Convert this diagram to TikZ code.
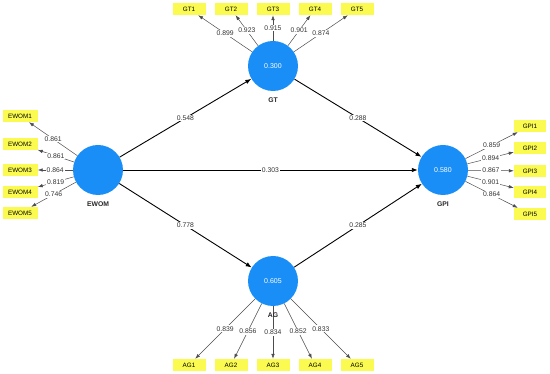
\documentclass[tikz,border=0pt]{standalone}
\usepackage{fontspec}
\setmainfont{Liberation Sans}
\usetikzlibrary{positioning, arrows.meta}
\definecolor{lvblue}{RGB}{26,142,247}
\definecolor{indyellow}{RGB}{250,250,80}

\begin{document}
\begin{tikzpicture}[x=1pt, y=-1pt,
        lv/.style={circle, fill=lvblue, minimum size=50pt, inner sep=0pt, text=white, font=\fontsize{7}{8}\selectfont},
        lvname/.style={font=\fontsize{6.8}{7}\selectfont\bfseries, text=black!85, inner sep=1pt},
        ind/.style={rectangle, fill=indyellow, minimum width=33pt, minimum height=12pt, inner sep=1pt, font=\fontsize{6.3}{7}\selectfont},
        struct/.style={-{Latex[length=6pt,width=4.5pt]}, line width=0.9pt},
        load/.style={-{Latex[length=5pt,width=3.5pt]}, line width=0.5pt, draw=black!70},
        coef/.style={fill=white, inner sep=1pt, font=\fontsize{6.8}{7}\selectfont, text=black!80}]
        \useasboundingbox (0,0) rectangle (550,374);

        % latent variables
        \node[lv] (ewom) at (98,170) {};
        \node[lv] (gt) at (273,66) {0.300};
        \node[lv] (ag) at (273,281) {0.605};
        \node[lv] (gpi) at (443,170) {0.580};

        % indicators
        \node[ind, minimum width=35pt] (ewom1) at (20,116) {EWOM1};
        \node[ind, minimum width=35pt] (ewom2) at (20,144) {EWOM2};
        \node[ind, minimum width=35pt] (ewom3) at (20,170) {EWOM3};
        \node[ind, minimum width=35pt] (ewom4) at (20,192) {EWOM4};
        \node[ind, minimum width=35pt] (ewom5) at (20,213) {EWOM5};

        \node[ind] (gt1) at (189,9) {GT1};
        \node[ind] (gt2) at (231,9) {GT2};
        \node[ind] (gt3) at (273,9) {GT3};
        \node[ind] (gt4) at (315,9) {GT4};
        \node[ind] (gt5) at (357,9) {GT5};

        \node[ind] (ag1) at (189,365) {AG1};
        \node[ind] (ag2) at (231,365) {AG2};
        \node[ind] (ag3) at (273,365) {AG3};
        \node[ind] (ag4) at (315,365) {AG4};
        \node[ind] (ag5) at (357,365) {AG5};

        \node[ind, minimum width=32pt] (gpi1) at (530,126) {GPI1};
        \node[ind, minimum width=32pt] (gpi2) at (530,148) {GPI2};
        \node[ind, minimum width=32pt] (gpi3) at (530,171) {GPI3};
        \node[ind, minimum width=32pt] (gpi4) at (530,192) {GPI4};
        \node[ind, minimum width=32pt] (gpi5) at (530,214) {GPI5};

        % structural paths
        \draw[struct] (ewom) -- node[coef] {0.548} (gt);
        \draw[struct] (ewom) -- node[coef] {0.303} (gpi);
        \draw[struct] (ewom) -- node[coef] {0.778} (ag);
        \draw[struct] (gt) -- node[coef] {0.288} (gpi);
        \draw[struct] (ag) -- node[coef] {0.285} (gpi);

        % outer loadings
        \draw[load] (ewom) -- node[coef] {0.861} (ewom1);
        \draw[load] (ewom) -- node[coef] {0.861} (ewom2);
        \draw[load] (ewom) -- node[coef] {0.864} (ewom3);
        \draw[load] (ewom) -- node[coef] {0.819} (ewom4);
        \draw[load] (ewom) -- node[coef] {0.746} (ewom5);

        \draw[load] (gt) -- node[coef] {0.899} (gt1);
        \draw[load] (gt) -- node[coef] {0.923} (gt2);
        \draw[load] (gt) -- node[coef] {0.915} (gt3);
        \draw[load] (gt) -- node[coef] {0.901} (gt4);
        \draw[load] (gt) -- node[coef] {0.874} (gt5);

        \draw[load] (ag) -- node[coef] {0.839} (ag1);
        \draw[load] (ag) -- node[coef] {0.856} (ag2);
        \draw[load] (ag) -- node[coef] {0.834} (ag3);
        \draw[load] (ag) -- node[coef] {0.852} (ag4);
        \draw[load] (ag) -- node[coef] {0.833} (ag5);

        \draw[load] (gpi) -- node[coef] {0.859} (gpi1);
        \draw[load] (gpi) -- node[coef] {0.894} (gpi2);
        \draw[load] (gpi) -- node[coef] {0.867} (gpi3);
        \draw[load] (gpi) -- node[coef] {0.901} (gpi4);
        \draw[load] (gpi) -- node[coef] {0.864} (gpi5);

        % construct names
        \node[lvname, below=5pt of ewom] (ewomname) {EWOM};
        \node[lvname, below=5pt of gt] (gtname) {GT};
        \node[lvname, below=5pt of ag] (agname) {AG};
        \node[lvname, below=5pt of gpi] (gpiname) {GPI};
\end{tikzpicture}
\end{document}
